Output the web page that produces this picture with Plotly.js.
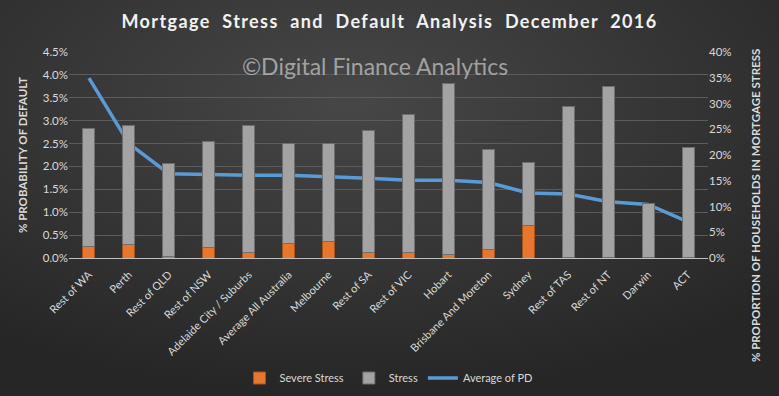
<!DOCTYPE html>
<html><head><meta charset="utf-8">
<script src="https://cdn.plot.ly/plotly-3.0.1.min.js"></script>
<style>html,body{margin:0;padding:0;background:#333;}#chart{width:779px;height:396px;}</style>
</head><body><div id="chart"></div>
<script>
const regions = ["Rest of WA","Perth","Rest of QLD","Rest of NSW","Adelaide City / Suburbs","Average All Australia","Melbourne","Rest of SA","Rest of VIC","Hobart","Brisbane And Moreton","Sydney","Rest of TAS","Rest of NT","Darwin","ACT"];
const severeStress = [0.022,0.027,0.003,0.020,0.010,0.028,0.033,0.011,0.011,0.0065,0.017,0.063,0.001,0.001,0.001,0.001];
const totalStress = [0.252,0.258,0.184,0.227,0.258,0.223,0.223,0.248,0.279,0.338,0.210,0.186,0.295,0.333,0.106,0.215];
const avgPD = [0.0393,0.025,0.0184,0.0182,0.0181,0.0181,0.0178,0.0174,0.0170,0.0170,0.0165,0.0142,0.0140,0.0123,0.0117,0.0079];
const stressOnly = totalStress.map((t,i)=>t-severeStress[i]);

const font = "Lato, 'Open Sans', sans-serif";
const bgSvg = "<svg xmlns='http://www.w3.org/2000/svg' width='779' height='396'><defs><radialGradient id='g' cx='0.45' cy='0.25' r='0.75'><stop offset='0' stop-color='#474747'/><stop offset='1' stop-color='#262626'/></radialGradient></defs><rect width='779' height='396' fill='url(#g)'/></svg>";
const bgSrc = 'data:image/svg+xml;charset=utf-8,' + encodeURIComponent(bgSvg);

const traces = [
  {type:'bar', name:'Severe Stress', x:regions, y:severeStress, yaxis:'y2',
   marker:{color:'#e8772e', line:{color:'#a8521a', width:1}}},
  {type:'bar', name:'Stress', x:regions, y:stressOnly, yaxis:'y2',
   marker:{color:'#a3a3a3', line:{color:'#6e6e6e', width:1}}},
  {type:'scatter', mode:'lines', name:'Average of PD', x:regions, y:avgPD, yaxis:'y',
   line:{color:'#5b9bd5', width:3.5}}
];
const layout = {
  width:779, height:396,
  paper_bgcolor:'#303030', plot_bgcolor:'rgba(0,0,0,0)',
  font:{family:font, color:'#d9d9d9', size:11},
  margin:{l:69, r:71, t:52, b:138},
  title:{text:'<b>Mortgage&nbsp; Stress&nbsp; and&nbsp; Default&nbsp; Analysis&nbsp; December&nbsp; 2016</b>', x:0.5, xanchor:'center', y:0.944, yanchor:'middle',
    font:{family:font, size:18, color:'#f2f2f2'}},
  barmode:'stack', bargap:0.7,
  showlegend:true,
  legend:{orientation:'h', xref:'paper', x:0.5, xanchor:'center', yref:'container', y:1-378/396, yanchor:'middle', font:{size:11, color:'#d9d9d9'}, bgcolor:'rgba(0,0,0,0)', traceorder:'normal'},
  xaxis:{tickangle:-45, showgrid:false, showline:true, linecolor:'#bfbfbf', linewidth:1, ticks:'', ticklabelstandoff:5, tickfont:{size:11, color:'#d9d9d9'}, automargin:false},
  yaxis:{range:[0,0.045], dtick:0.005, tickformat:'.1%', showgrid:true, gridcolor:'#5c5c5c', zeroline:false, ticks:'', tickfont:{size:11.5,color:'#d9d9d9'},
    title:{text:'<b>% PROBABILITY OF DEFAULT</b>', font:{size:11.5, color:'#d9d9d9'}, standoff:12}, automargin:false},
  yaxis2:{range:[0,0.40], dtick:0.05, tickformat:'.0%', overlaying:'y', side:'right', showgrid:false, zeroline:false, ticks:'', tickfont:{size:11.5,color:'#d9d9d9'}, automargin:false},
  annotations:[
    {text:'©Digital Finance Analytics', xref:'paper', yref:'paper', x:0.479, y:0.932, xanchor:'center', yanchor:'middle', showarrow:false,
     font:{family:font, size:23, color:'rgba(205,205,205,0.7)'}},
    {text:'<b>% PROPORTION OF HOUSEHOLDS IN MORTGAGE STRESS</b>', xref:'paper', yref:'paper', x:(755-69)/639, y:(258-206)/206, xanchor:'center', yanchor:'middle',
     textangle:-90, showarrow:false, font:{family:font, size:11.5, color:'#d9d9d9'}}
  ],
  images:[{source:bgSrc, xref:'paper', yref:'paper', x:-69/639, y:1+52/206, sizex:779/639, sizey:396/206, xanchor:'left', yanchor:'top', sizing:'stretch', layer:'below'}]
};
Plotly.newPlot('chart', traces, layout, {displayModeBar:false}).then(()=>{
  const t = document.querySelector('.gtitle');
  if (t) t.setAttribute('letter-spacing','1.4px');
});
</script></body></html>
